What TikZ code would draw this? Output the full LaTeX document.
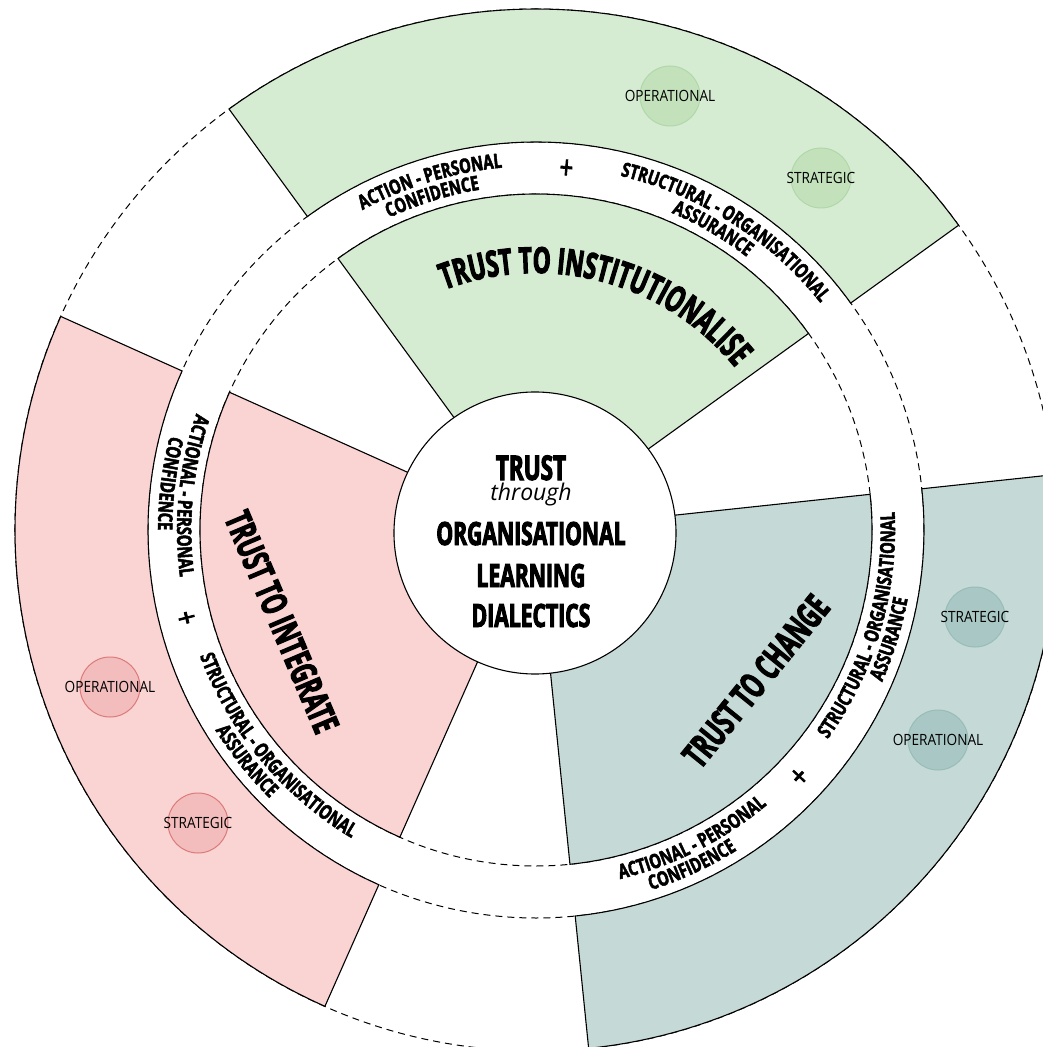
\documentclass[tikz,border=0pt]{standalone}
\usepackage{fontspec}
\setmainfont{Open Sans}
\newfontfamily\condfam{Open Sans}[FakeStretch=0.66, FakeBold=3]
\newfontfamily\sectorfam{Open Sans}[FakeStretch=0.63, FakeBold=3]
\newfontfamily\bandfam{Open Sans}[FakeStretch=0.74, FakeBold=2.5]
\newfontfamily\dotfam{Open Sans}[FakeStretch=0.88]
\usetikzlibrary{decorations.text}

\definecolor{greenbg}{HTML}{D6ECD2}
\definecolor{greendot}{HTML}{C3E2BC}
\definecolor{greenrim}{HTML}{B0D7A8}
\definecolor{redbg}{HTML}{FAD3D3}
\definecolor{reddot}{HTML}{F4BDBD}
\definecolor{redrim}{HTML}{DC7A7A}
\definecolor{tealbg}{HTML}{C5D9D6}
\definecolor{tealdot}{HTML}{A9C8C5}
\definecolor{tealrim}{HTML}{98BCB8}

\newcommand{\hubfont}{\condfam\bfseries\fontsize{32pt}{32pt}\selectfont}
\newcommand{\throughfont}{\itshape\fontsize{23pt}{23pt}\selectfont}
\newcommand{\sectorfont}{\sectorfam\bfseries\fontsize{36pt}{36pt}\selectfont}
\newcommand{\bandfont}{\bandfam\bfseries\fontsize{20pt}{20pt}\selectfont}
\newcommand{\plusfont}{\bandfam\fontsize{32pt}{32pt}\selectfont}
\newcommand{\dotlblfont}{\dotfam\fontsize{15.5pt}{15.5pt}\selectfont}

% text along an arc: start angle, end angle, radius, text
\newcommand{\bandtext}[4]{%
  \path[decorate, decoration={text along path, text align=center, text={#4}}]
    (#1:#3) arc[start angle=#1, end angle=#2, radius=#3];}

\begin{document}
\begin{tikzpicture}[
    x=1pt, y=1pt,
    sector/.style={draw=black, line width=1.1pt},
    gap/.style={draw=black, line width=1pt, dash pattern=on 7pt off 5pt},
    hub/.style={circle, draw=black, line width=1.1pt, fill=white, minimum size=282pt, inner sep=0pt},
    hubtxt/.style={anchor=base, font=\hubfont, inner sep=0pt},
    sectorlbl/.style={font=\sectorfont, inner sep=0pt},
    plus/.style={font=\plusfont, inner sep=0pt},
    dot/.style={circle, line width=1pt, minimum size=60pt, inner sep=0pt},
    dotlbl/.style={font=\dotlblfont, inner sep=0pt}
  ]
  \useasboundingbox (-536,-517) rectangle (507,530);

  % Rings
  \foreach \r in {336, 388, 521}
    \draw[gap] (0,0) circle[radius=\r];

  % Sectors
  \foreach \a/\col in {35.8/greenbg, 155.8/redbg, 275.8/tealbg}{
    \pgfmathsetmacro{\b}{\a+90.3}
    \filldraw[sector, fill=\col] (\a:120) arc[start angle=\a, end angle=\b, radius=120]
      -- (\b:336) arc[start angle=\b, end angle=\a, radius=336] -- cycle;
    \filldraw[sector, fill=\col] (\a:388) arc[start angle=\a, end angle=\b, radius=388]
      -- (\b:521) arc[start angle=\b, end angle=\a, radius=521] -- cycle;
  }

  % Hub
  \node[hub] (hub) at (-1,-3) {};
  \node[hubtxt, font=\condfam\bfseries\fontsize{34pt}{34pt}\selectfont] (trust) at (-5,50) {TRUST};
  \node[anchor=base, font=\throughfont, inner sep=0pt] (through) at (-5,30) {through};
  \node[hubtxt] (organisational) at (-5,-15) {ORGANISATIONAL};
  \node[hubtxt] (learning) at (-5,-57) {LEARNING};
  \node[hubtxt] (dialectics) at (-5,-97) {DIALECTICS};

  % Sector labels
  \bandtext{135}{15}{257}{|\sectorfont|TRUST TO INSTITUTIONALISE}
  \node[sectorlbl, rotate=-67] (integrate) at (-254,-92) {TRUST TO INTEGRATE};
  \node[sectorlbl, rotate=51] (change) at (220,-151) {TRUST TO CHANGE};

  % Band labels, green
  \bandtext{146.9}{66.9}{364}{|\bandfont|ACTION - PERSONAL}
  \bandtext{147.3}{67.3}{345}{|\bandfont|CONFIDENCE}
  \node[plus, rotate=-4.8] (gplus) at (85.2:362) {+};
  \bandtext{97.6}{17.6}{364}{|\bandfont|STRUCTURAL - ORGANISATIONAL}
  \bandtext{99.6}{19.6}{345}{|\bandfont|ASSURANCE}

  % Band labels, red
  \bandtext{134.3}{214.3}{359}{|\bandfont|ACTIONAL - PERSONAL}
  \bandtext{132.8}{212.8}{378}{|\bandfont|CONFIDENCE}
  \node[plus, rotate=-75.9] (rplus) at (194.1:362) {+};
  \bandtext{179.8}{259.8}{359}{|\bandfont|STRUCTURAL - ORGANISATIONAL}
  \bandtext{178.6}{258.6}{378}{|\bandfont|ASSURANCE}

  % Band labels, teal
  \bandtext{256.8}{336.8}{359}{|\bandfont|ACTIONAL - PERSONAL}
  \bandtext{254.9}{334.9}{378}{|\bandfont|CONFIDENCE}
  \node[plus, rotate=46.9] (tplus) at (316.9:362) {+};
  \bandtext{303.6}{383.6}{359}{|\bandfont|STRUCTURAL - ORGANISATIONAL}
  \bandtext{302.9}{382.9}{378}{|\bandfont|ASSURANCE}

  % Levels
  \node[dot, fill=greendot, draw=greenrim] (gop) at (134,434) {};
  \node[dotlbl] (gopl) at (gop) {OPERATIONAL};
  \node[dot, fill=greendot, draw=greenrim] (gst) at (285,352) {};
  \node[dotlbl] (gstl) at (gst) {STRATEGIC};
  \node[dot, fill=reddot, draw=redrim] (rop) at (-426,-157) {};
  \node[dotlbl] (ropl) at (rop) {OPERATIONAL};
  \node[dot, fill=reddot, draw=redrim] (rst) at (-338,-293) {};
  \node[dotlbl] (rstl) at (rst) {STRATEGIC};
  \node[dot, fill=tealdot, draw=tealrim] (tst) at (439,-87) {};
  \node[dotlbl] (tstl) at (tst) {STRATEGIC};
  \node[dot, fill=tealdot, draw=tealrim] (top) at (402,-210) {};
  \node[dotlbl] (topl) at (top) {OPERATIONAL};
\end{tikzpicture}
\end{document}
